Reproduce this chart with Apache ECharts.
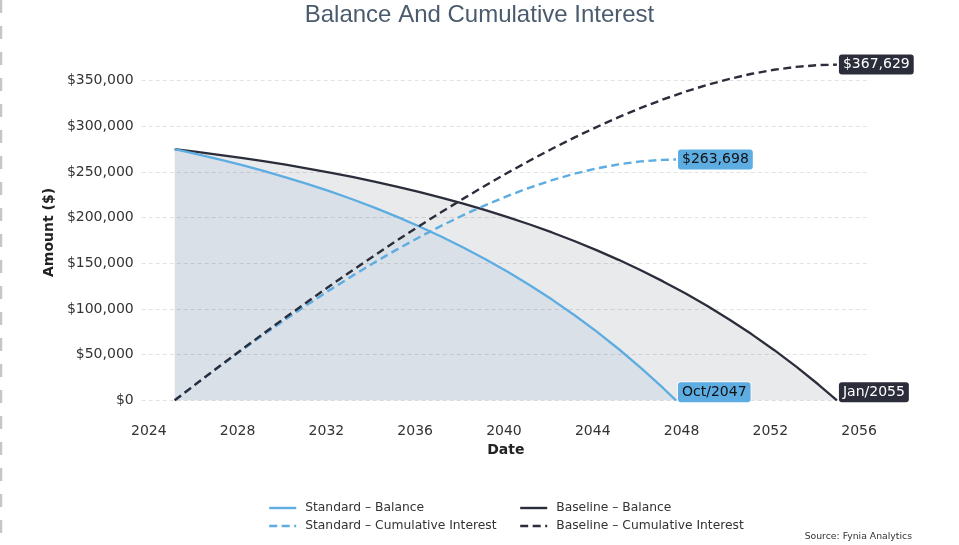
<!DOCTYPE html>
<html>
<head>
<meta charset="utf-8">
<title>Balance And Cumulative Interest</title>
<script src="https://cdn.jsdelivr.net/npm/echarts@6/dist/echarts.min.js"></script>
<style>
  html, body { margin: 0; padding: 0; background: #ffffff; }
  #chart { width: 959px; height: 545px; }
</style>
</head>
<body>
<div id="chart"></div>
<script>
// Payment dates (month of each yearly sample, plus the payoff month)
const standardDates = [
  '2025-03','2026-03','2027-03','2028-03','2029-03','2030-03','2031-03','2032-03',
  '2033-03','2034-03','2035-03','2036-03','2037-03','2038-03','2039-03','2040-03',
  '2041-03','2042-03','2043-03','2044-03','2045-03','2046-03','2047-03','2047-10'
];
const standardBalance = [
  275000, 269650, 263920, 257800, 251240, 244230, 236730, 228710,
  220130, 210950, 201130, 190630, 179390, 167370, 154520, 140760,
  126050, 110310, 93470, 75460, 56190, 35580, 13530, 0
];
const standardInterest = [
  0, 18545, 36715, 54480, 71820, 88700, 105080, 120940,
  136240, 150930, 164980, 178340, 190960, 202800, 213790, 223880,
  233000, 241090, 248070, 253880, 258420, 261600, 263340, 263698
];

const baselineDates = [
  '2025-03','2026-03','2027-03','2028-03','2029-03','2030-03','2031-03','2032-03',
  '2033-03','2034-03','2035-03','2036-03','2037-03','2038-03','2039-03','2040-03',
  '2041-03','2042-03','2043-03','2044-03','2045-03','2046-03','2047-03','2048-03',
  '2049-03','2050-03','2051-03','2052-03','2053-03','2054-03','2055-01'
];
const baselineBalance = [
  275000, 272040, 268870, 265470, 261850, 257960, 253810, 249370,
  244620, 239540, 234100, 228280, 222060, 215410, 208290, 200670,
  192520, 183810, 174490, 164510, 153840, 142430, 130220, 117160,
  103190, 88250, 72260, 55160, 36870, 17300, 0
];
const baselineInterest = [
  0, 18620, 37025, 55210, 73160, 90850, 108270, 125400,
  142220, 158700, 174830, 190580, 205920, 220820, 235250, 249190,
  262590, 275410, 287630, 299190, 310060, 320170, 329480, 337940,
  345480, 352040, 357550, 361940, 365120, 367030, 367629
];

// Axis tick labels
const xTickYears = [2024, 2028, 2032, 2036, 2040, 2044, 2048, 2052, 2056];
const yTickValues = [0, 50000, 100000, 150000, 200000, 250000, 300000, 350000];

const seriesNames = {
  stdBal: 'Standard \u2013 Balance',
  stdInt: 'Standard \u2013 Cumulative Interest',
  baseBal: 'Baseline \u2013 Balance',
  baseInt: 'Baseline \u2013 Cumulative Interest'
};

const BLUE = '#5dade2';
const DARK = '#2c2d3b';
const MONTHS = ['Jan','Feb','Mar','Apr','May','Jun','Jul','Aug','Sep','Oct','Nov','Dec'];

function toYear(d) {
  const [y, m] = d.split('-').map(Number);
  return y + (m - 1) / 12;
}
function pairs(dates, values) {
  return dates.map((d, i) => [toYear(d), values[i]]);
}
function money(v) {
  return '$' + Math.round(v).toLocaleString('en-US');
}
function monthLabel(d) {
  const [y, m] = d.split('-').map(Number);
  return MONTHS[m - 1] + '/' + y;
}

const FONT = 'DejaVu Sans';
const xMin = 2023.68, xMax = 2056.49;
const yMin = -18381, yMax = 386010;
const DASH = [8, 4.5];

function endLabel(bg, fg, text, offset) {
  return {
    show: true,
    formatter: () => text,
    backgroundColor: bg,
    color: fg,
    fontFamily: FONT,
    fontSize: 14,
    lineHeight: 15,
    padding: [3, 4, 2, 4],
    borderRadius: 3,
    borderColor: 'rgba(255,255,255,0.6)',
    borderWidth: 1,
    distance: 2,
    offset: offset || [0, 0]
  };
}

const legendCommon = {
  top: 502, orient: 'vertical', itemGap: 6, padding: 0,
  itemWidth: 27, itemHeight: 13,
  itemStyle: { opacity: 0 },
  lineStyle: { width: 2.4 },
  textStyle: { fontFamily: FONT, fontSize: 12.3, color: '#333', padding: [0, 0, 0, 4] }
};

const chart = echarts.init(document.getElementById('chart'), null, { renderer: 'canvas' });

chart.setOption({
  animation: false,
  backgroundColor: '#ffffff',
  title: {
    text: 'Balance And Cumulative Interest',
    left: 'center',
    top: -2,
    textStyle: {
      fontFamily: 'Liberation Sans',
      fontSize: 24,
      fontWeight: 'normal',
      color: '#4b5b6e'
    }
  },
  grid: { left: 141.7, right: 89, top: 47.8, bottom: 127.9 },
  xAxis: {
    type: 'value',
    min: xMin,
    max: xMax,
    name: 'Date',
    nameLocation: 'middle',
    nameGap: 21,
    nameTextStyle: { fontFamily: FONT, fontSize: 14, fontWeight: 'bold', color: '#222' },
    axisLine: { show: false },
    axisTick: { show: false, customValues: xTickYears },
    axisLabel: {
      customValues: xTickYears,
      fontFamily: FONT,
      fontSize: 14,
      color: '#333',
      margin: 7,
      formatter: v => String(v)
    },
    splitLine: { show: false }
  },
  yAxis: {
    type: 'value',
    min: yMin,
    max: yMax,
    name: 'Amount ($)',
    nameLocation: 'middle',
    nameRotate: 90,
    nameGap: 75,
    nameTextStyle: { fontFamily: FONT, fontSize: 14, fontWeight: 'bold', color: '#222' },
    axisLine: { show: false },
    axisTick: { show: false, customValues: yTickValues },
    axisLabel: {
      customValues: yTickValues,
      fontFamily: FONT,
      fontSize: 14,
      color: '#333',
      margin: 8,
      formatter: v => money(v)
    },
    splitLine: {
      show: true,
      lineStyle: { color: '#e2e2e2', width: 1, type: [4, 3] }
    }
  },
  legend: [
    Object.assign({ left: 268, data: [seriesNames.stdBal, seriesNames.stdInt] }, legendCommon),
    Object.assign({ left: 519, data: [seriesNames.baseBal, seriesNames.baseInt] }, legendCommon)
  ],
  graphic: [
    {
      type: 'line',
      shape: { x1: 1, y1: 0, x2: 1, y2: 545 },
      style: { stroke: '#c6c6c6', lineWidth: 2.5, lineDash: [13, 13] }
    },
    {
      type: 'text',
      right: 47,
      top: 532,
      style: {
        text: 'Source: Fynia Analytics',
        fontFamily: FONT,
        fontSize: 9.3,
        fill: '#333'
      }
    }
  ],
  series: [
    {
      name: seriesNames.baseBal,
      type: 'line',
      data: pairs(baselineDates, baselineBalance),
      symbol: 'none',
      color: DARK,
      lineStyle: { color: DARK, width: 2.3 },
      areaStyle: { color: DARK, opacity: 0.1 },
      z: 3,
      endLabel: endLabel(DARK, '#ffffff', monthLabel(baselineDates[baselineDates.length - 1]), [0, -8])
    },
    {
      name: seriesNames.stdBal,
      type: 'line',
      data: pairs(standardDates, standardBalance),
      symbol: 'none',
      color: BLUE,
      lineStyle: { color: BLUE, width: 2.3 },
      areaStyle: { color: '#5b8ec2', opacity: 0.1 },
      z: 3,
      endLabel: endLabel(BLUE, '#111111', monthLabel(standardDates[standardDates.length - 1]), [0, -8])
    },
    {
      name: seriesNames.stdInt,
      type: 'line',
      data: pairs(standardDates, standardInterest),
      symbol: 'none',
      color: BLUE,
      lineStyle: { color: BLUE, width: 2.4, type: DASH },
      z: 4,
      endLabel: endLabel(BLUE, '#111111', money(standardInterest[standardInterest.length - 1]))
    },
    {
      name: seriesNames.baseInt,
      type: 'line',
      data: pairs(baselineDates, baselineInterest),
      symbol: 'none',
      color: DARK,
      lineStyle: { color: DARK, width: 2.4, type: DASH },
      z: 4,
      endLabel: endLabel(DARK, '#ffffff', money(baselineInterest[baselineInterest.length - 1]))
    }
  ]
});
</script>
</body>
</html>
